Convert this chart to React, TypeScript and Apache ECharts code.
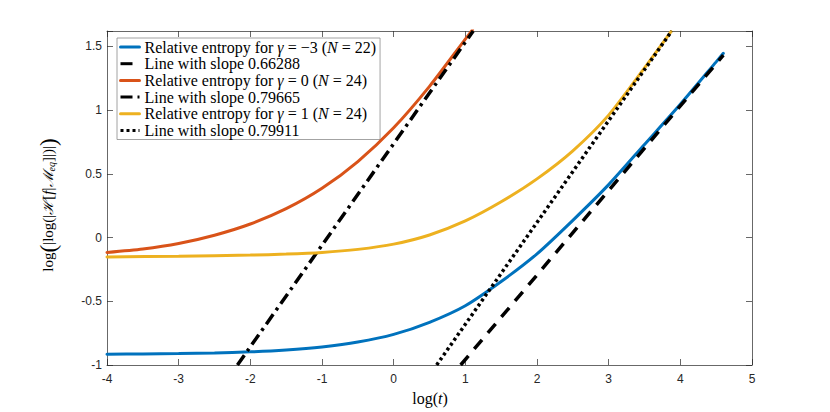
import React, { useEffect, useRef } from "react";
import * as echarts from "echarts";

// ---- data ----
const seriesNames = [
  "Relative entropy for γ = −3 (N = 22)",
  "Line with slope 0.66288",
  "Relative entropy for γ = 0 (N = 24)",
  "Line with slope 0.79665",
  "Relative entropy for γ = 1 (N = 24)",
  "Line with slope 0.79911",
];
const legendRich = [
  "Relative entropy for {i|γ} = −3 ({i|N} = 22)",
  "Line with slope 0.66288",
  "Relative entropy for {i|γ} = 0 ({i|N} = 24)",
  "Line with slope 0.79665",
  "Relative entropy for {i|γ} = 1 ({i|N} = 24)",
  "Line with slope 0.79911",
];

const blueX = [-4, -3.5, -3, -2.5, -2, -1.5, -1, -0.5, 0, 0.5, 1, 1.5, 2, 2.5, 3, 3.5, 4, 4.5, 4.6];
const blueY = [-0.915, -0.913, -0.91, -0.905, -0.897, -0.882, -0.858, -0.82, -0.76, -0.665, -0.535, -0.345, -0.128, 0.135, 0.415, 0.73, 1.045, 1.378, 1.445];

const redX = [-4, -3.5, -3, -2.5, -2, -1.5, -1, -0.5, 0, 0.5, 1, 1.1];
const redY = [-0.117, -0.09, -0.047, 0.018, 0.106, 0.226, 0.386, 0.596, 0.861, 1.186, 1.556, 1.63];

const yellowX = [-4, -3, -2, -1.5, -1, -0.5, 0, 0.5, 1, 1.5, 2, 2.5, 3, 3.5, 3.87];
const yellowY = [-0.152, -0.147, -0.138, -0.13, -0.117, -0.093, -0.052, 0.02, 0.13, 0.28, 0.46, 0.68, 0.96, 1.33, 1.615];

const dashedX = [0.935, 4.6];
const dashedY = [-1, 1.43];
const dashDotX = [-2.18, 1.11];
const dashDotY = [-1, 1.62];
const dottedX = [0.6, 3.88];
const dottedY = [-1, 1.62];

const xMin = -4;
const xMax = 5;
const xStep = 1;
const yMin = -1;
const yMax = 1.62;
const yStep = 0.5;

const zip = (xs: number[], ys: number[]) => xs.map((x, i) => [x, ys[i]]);

const AXIS_COLOR = "#262626";
const SERIF = "'Liberation Serif', 'DejaVu Serif', serif";
const SANS = "'Liberation Sans', Arial, sans-serif";

function buildOption() {
  const axisLine = { show: true, onZero: false, lineStyle: { color: AXIS_COLOR, width: 0.7 } };
  const axisTick = { show: true, inside: true, length: 6, lineStyle: { color: AXIS_COLOR, width: 0.7 } };
  const yLabelFmt = (v: number) =>
    Math.abs(v / yStep - Math.round(v / yStep)) < 1e-6 ? String(Math.round(v * 10) / 10) : "";

  const line = (
    idx: number,
    data: number[][],
    color: string,
    width: number,
    type: any,
    cap: string = "butt"
  ) => ({
    name: seriesNames[idx],
    type: "line",
    data,
    xAxisIndex: 0,
    yAxisIndex: 0,
    showSymbol: false,
    symbol: "none",
    smooth: type === "solid" ? 0.25 : false,
    clip: true,
    color,
    lineStyle: { color, width, type, cap },
    emphasis: { disabled: true },
    z: 2 + idx,
  });

  return {
    animation: false,
    backgroundColor: "#ffffff",
    grid: { left: 107, right: 78, top: 31, bottom: 47, containLabel: false },
    xAxis: [
      {
        type: "value",
        min: xMin,
        max: xMax,
        interval: xStep,
        position: "bottom",
        axisLine,
        axisTick,
        axisLabel: { color: AXIS_COLOR, fontFamily: SANS, fontSize: 12, margin: 8 },
        splitLine: { show: false },
      },
      {
        type: "value",
        min: xMin,
        max: xMax,
        interval: xStep,
        position: "top",
        axisLine,
        axisTick,
        axisLabel: { show: false },
        splitLine: { show: false },
      },
    ],
    yAxis: [
      {
        type: "value",
        min: yMin,
        max: yMax,
        interval: yStep,
        position: "left",
        axisLine,
        axisTick,
        axisLabel: { color: AXIS_COLOR, fontFamily: SANS, fontSize: 12, margin: 5, formatter: yLabelFmt },
        splitLine: { show: false },
      },
      {
        type: "value",
        min: yMin,
        max: yMax,
        interval: yStep,
        position: "right",
        axisLine,
        axisTick,
        axisLabel: { show: false },
        splitLine: { show: false },
      },
    ],
    legend: {
      show: true,
      orient: "vertical",
      left: 117,
      top: 38,
      padding: [1, 4, 1, 2],
      itemWidth: 19,
      itemHeight: 12,
      itemGap: 0.7,
      selectedMode: false,
      backgroundColor: "#ffffff",
      borderColor: "#8c8c8c",
      borderWidth: 0.8,
      borderRadius: 0,
      itemStyle: { opacity: 0, borderWidth: 0 },
      lineStyle: { width: 3 },
      data: seriesNames,
      formatter: (name: string) => legendRich[seriesNames.indexOf(name)],
      textStyle: {
        fontFamily: SERIF,
        fontSize: 16,
        lineHeight: 16,
        color: "#000",
        rich: {
          i: { fontFamily: SERIF, fontStyle: "italic", fontSize: 16, lineHeight: 16, color: "#000" },
        },
      },
    },
    graphic: [
      {
        type: "text",
        x: 48,
        y: 205,
        rotation: Math.PI / 2,
        silent: true,
        style: {
          text: "{n|log}{p|(}{n||log(|}{c|ℋ}{n|[}{i|f}{n||}{c|ℳ}{s|eq}{n|]|)|}{p|)}",
          align: "center",
          verticalAlign: "middle",
          fill: "#000",
          fontFamily: SERIF,
          fontSize: 15,
          rich: {
            n: { fontFamily: SERIF, fontSize: 15, fill: "#000" },
            p: { fontFamily: SERIF, fontSize: 23, fill: "#000" },
            i: { fontFamily: SERIF, fontSize: 15, fontStyle: "italic", fill: "#000" },
            c: { fontFamily: "'DejaVu Serif', serif", fontSize: 14, fontStyle: "italic", fill: "#000" },
            s: { fontFamily: SERIF, fontSize: 10, fontStyle: "italic", fill: "#000", padding: [6, 0, 0, 0] },
          },
        },
      },
      {
        type: "text",
        x: 430,
        y: 398,
        silent: true,
        style: {
          text: "{n|log(}{i|t}{n|)}",
          align: "center",
          verticalAlign: "middle",
          fill: "#000",
          fontFamily: SERIF,
          fontSize: 16,
          rich: {
            n: { fontFamily: SERIF, fontSize: 16, fill: "#000" },
            i: { fontFamily: SERIF, fontSize: 16, fontStyle: "italic", fill: "#000" },
          },
        },
      },
    ],
    series: [
      line(0, zip(blueX, blueY), "#0072BD", 3, "solid", "round"),
      line(1, zip(dashedX, dashedY), "#000000", 3.5, [12, 9]),
      line(2, zip(redX, redY), "#D95319", 3, "solid", "round"),
      line(3, zip(dashDotX, dashDotY), "#000000", 3.5, [12, 5, 3, 5]),
      line(4, zip(yellowX, yellowY), "#EDB120", 3, "solid", "round"),
      line(5, zip(dottedX, dottedY), "#000000", 3.5, [3, 3]),
    ],
  };
}

export default function App() {
  const ref = useRef<HTMLDivElement>(null);
  useEffect(() => {
    if (!ref.current) return;
    const chart = echarts.init(ref.current, null, { renderer: "svg" });
    chart.setOption(buildOption() as any);
    return () => chart.dispose();
  }, []);
  return (
    <div
      ref={ref}
      style={{ position: "fixed", left: 0, top: 0, width: 830, height: 412, background: "#ffffff" }}
    />
  );
}
